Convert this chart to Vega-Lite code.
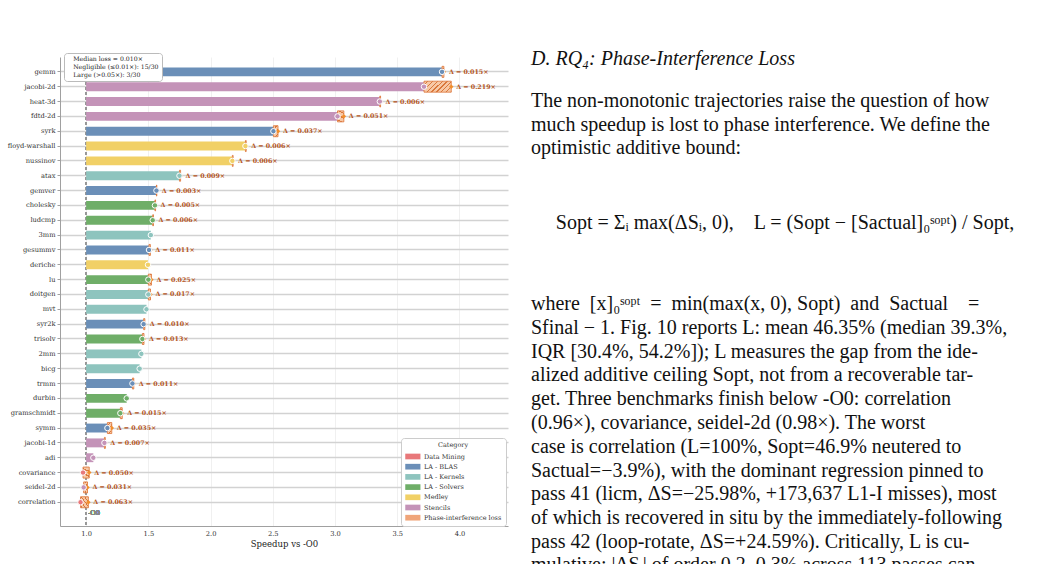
{
  "$schema": "https://vega.github.io/schema/vega-lite/v6.json",
  "padding": {"left": 5, "top": 49, "right": 0, "bottom": 0},
  "autosize": {"type": "pad"},
  "spacing": 23,
  "config": {
    "view": {"stroke": null},
    "font": "DejaVu Serif",
    "axis": {"labelFont": "DejaVu Serif", "titleFont": "DejaVu Serif", "labelColor": "#333333", "domainColor": "#a0a0a0", "tickColor": "#a0a0a0"},
    "legend": {"labelFont": "DejaVu Serif", "titleFont": "DejaVu Serif"}
  },
  "datasets": {
    "bench": [
      {"b": "gemm", "c": "LA - BLAS", "s": 3.86, "o": 3.875, "lab": "Δ = 0.015×"},
      {"b": "jacobi-2d", "c": "Stencils", "s": 3.715, "o": 3.934, "lab": "Δ = 0.219×"},
      {"b": "heat-3d", "c": "Stencils", "s": 3.36, "o": 3.366, "lab": "Δ = 0.006×"},
      {"b": "fdtd-2d", "c": "Stencils", "s": 3.02, "o": 3.071, "lab": "Δ = 0.051×"},
      {"b": "syrk", "c": "LA - BLAS", "s": 2.505, "o": 2.542, "lab": "Δ = 0.037×"},
      {"b": "floyd-warshall", "c": "Medley", "s": 2.28, "o": 2.286, "lab": "Δ = 0.006×"},
      {"b": "nussinov", "c": "Medley", "s": 2.175, "o": 2.181, "lab": "Δ = 0.006×"},
      {"b": "atax", "c": "LA - Kernels", "s": 1.75, "o": 1.759, "lab": "Δ = 0.009×"},
      {"b": "gemver", "c": "LA - BLAS", "s": 1.565, "o": 1.568, "lab": "Δ = 0.003×"},
      {"b": "cholesky", "c": "LA - Solvers", "s": 1.553, "o": 1.558, "lab": "Δ = 0.005×"},
      {"b": "ludcmp", "c": "LA - Solvers", "s": 1.535, "o": 1.541, "lab": "Δ = 0.006×"},
      {"b": "3mm", "c": "LA - Kernels", "s": 1.52, "o": null, "lab": null},
      {"b": "gesummv", "c": "LA - BLAS", "s": 1.505, "o": 1.516, "lab": "Δ = 0.011×"},
      {"b": "deriche", "c": "Medley", "s": 1.497, "o": null, "lab": null},
      {"b": "lu", "c": "LA - Solvers", "s": 1.5, "o": 1.525, "lab": "Δ = 0.025×"},
      {"b": "doitgen", "c": "LA - Kernels", "s": 1.5, "o": 1.517, "lab": "Δ = 0.017×"},
      {"b": "mvt", "c": "LA - Kernels", "s": 1.485, "o": null, "lab": null},
      {"b": "syr2k", "c": "LA - BLAS", "s": 1.462, "o": 1.472, "lab": "Δ = 0.010×"},
      {"b": "trisolv", "c": "LA - Solvers", "s": 1.452, "o": 1.465, "lab": "Δ = 0.013×"},
      {"b": "2mm", "c": "LA - Kernels", "s": 1.444, "o": null, "lab": null},
      {"b": "bicg", "c": "LA - Kernels", "s": 1.43, "o": null, "lab": null},
      {"b": "trmm", "c": "LA - BLAS", "s": 1.372, "o": 1.383, "lab": "Δ = 0.011×"},
      {"b": "durbin", "c": "LA - Solvers", "s": 1.326, "o": null, "lab": null},
      {"b": "gramschmidt", "c": "LA - Solvers", "s": 1.275, "o": 1.29, "lab": "Δ = 0.015×"},
      {"b": "symm", "c": "LA - BLAS", "s": 1.171, "o": 1.206, "lab": "Δ = 0.035×"},
      {"b": "jacobi-1d", "c": "Stencils", "s": 1.147, "o": 1.154, "lab": "Δ = 0.007×"},
      {"b": "adi", "c": "Stencils", "s": 1.058, "o": null, "lab": null},
      {"b": "covariance", "c": "Data Mining", "s": 0.975, "o": 1.025, "lab": "Δ = 0.050×"},
      {"b": "seidel-2d", "c": "Stencils", "s": 0.98, "o": 1.011, "lab": "Δ = 0.031×"},
      {"b": "correlation", "c": "Data Mining", "s": 0.955, "o": 1.018, "lab": "Δ = 0.063×"}
    ],
    "stats": [
      {"st": "Median loss = 0.010×"},
      {"st": "Negligible (≤0.01×): 15/30"},
      {"st": "Large (>0.05×): 3/30"}
    ],
    "txt": [
      {"k": "h", "r": -10.29, "t": "D. RQ₄: Phase-Interference Loss"},
      {"k": "p", "r": -8.53, "t": "\u2003The non-monotonic trajectories raise the question of how"},
      {"k": "p", "r": -7.54, "t": "much speedup is lost to phase interference. We define the"},
      {"k": "p", "r": -6.55, "t": "optimistic additive bound:"},
      {"k": "e", "r": -3.4, "t": "Sopt = Σᵢ max(ΔSᵢ, 0),\u2003L = (Sopt − [Sactual]₀ˢᵒᵖᵗ) / Sopt,"},
      {"k": "p", "r": 0, "t": "where\u2002[x]₀ˢᵒᵖᵗ\u2002=\u2002min(max(x, 0), Sopt)\u2002and\u2002Sactual\u2002\u2002="},
      {"k": "p", "r": 1, "t": "Sfinal − 1. Fig. 10 reports L: mean 46.35% (median 39.3%,"},
      {"k": "p", "r": 2, "t": "IQR [30.4%, 54.2%]); L measures the gap from the ide-"},
      {"k": "p", "r": 3, "t": "alized additive ceiling Sopt, not from a recoverable tar-"},
      {"k": "p", "r": 4, "t": "get. Three benchmarks finish below -O0: correlation"},
      {"k": "p", "r": 5, "t": "(0.96×), covariance, seidel-2d (0.98×). The worst"},
      {"k": "p", "r": 6, "t": "case is correlation (L=100%, Sopt=46.9% neutered to"},
      {"k": "p", "r": 7, "t": "Sactual=−3.9%), with the dominant regression pinned to"},
      {"k": "p", "r": 8, "t": "pass 41 (licm, ΔS=−25.98%, +173,637 L1-I misses), most"},
      {"k": "p", "r": 9, "t": "of which is recovered in situ by the immediately-following"},
      {"k": "p", "r": 10, "t": "pass 42 (loop-rotate, ΔS=+24.59%). Critically, L is cu-"},
      {"k": "p", "r": 10.95, "t": "mulative: |ΔSᵢ| of order 0.2–0.3% across 113 passes can"}
    ]
  },
  "hconcat": [
    {
      "width": 448,
      "height": 469,
      "data": {"name": "bench"},
      "layer": [
        {
          "mark": {"type": "rule", "color": "#999999", "strokeDash": [3, 2], "strokeWidth": 0.8},
          "encoding": {"x": {"datum": 1, "type": "quantitative"}}
        },
        {
          "mark": {"type": "bar", "opacity": 1},
          "encoding": {
            "x": {
              "field": "s", "type": "quantitative",
              "scale": {"domain": [0.79, 4.39], "nice": false, "zero": false},
              "axis": {
                "values": [1, 1.5, 2, 2.5, 3, 3.5, 4], "format": ".1f",
                "title": "Speedup vs -O0", "titleFontSize": 8.5, "titleFontWeight": "normal", "titleColor": "#222222", "titlePadding": 3,
                "labelFontSize": 6.7, "labelPadding": 4, "ticks": false,
                "grid": true, "gridColor": "#ececec", "gridWidth": 0.8
              }
            },
            "x2": {"datum": 1},
            "y": {
              "field": "b", "type": "nominal",
              "scale": {
                "domain": ["gemm", "jacobi-2d", "heat-3d", "fdtd-2d", "syrk", "floyd-warshall", "nussinov", "atax", "gemver", "cholesky", "ludcmp", "3mm", "gesummv", "deriche", "lu", "doitgen", "mvt", "syr2k", "trisolv", "2mm", "bicg", "trmm", "durbin", "gramschmidt", "symm", "jacobi-1d", "adi", "covariance", "seidel-2d", "correlation"],
                "paddingInner": 0.4, "paddingOuter": 1.23, "align": 0.35
              },
              "axis": {
                "title": null, "labelFontSize": 6.7, "labelPadding": 2, "tickSize": 3, "labelColor": "#333333",
                "grid": true, "gridColor": "#d2d2d2", "gridWidth": 1.5,
                "minExtent": 55, "maxExtent": 55
              }
            },
            "color": {
              "field": "c", "type": "nominal",
              "scale": {
                "domain": ["Data Mining", "LA - BLAS", "LA - Kernels", "LA - Solvers", "Medley", "Stencils", "Phase-interference loss"],
                "range": ["#e8787a", "#6b8fb8", "#8ec4be", "#6fae68", "#f1d066", "#c493b8", "#f0a57a"]
              },
              "legend": {
                "title": "Category", "orient": "none", "legendX": 341, "legendY": 381,
                "fillColor": "white", "strokeColor": "#cccccc", "cornerRadius": 3, "padding": 4,
                "titleFontSize": 6.5, "titleFontWeight": "normal", "titleAnchor": "middle", "titleColor": "#333333", "titlePadding": 3,
                "labelFontSize": 6.5, "labelColor": "#333333",
                "symbolType": "M-1,-0.6H2.2V0.6H-1Z", "symbolSize": 90, "symbolStrokeWidth": 0, "symbolOpacity": 1,
                "labelOffset": 9, "rowPadding": 1.2
              }
            }
          }
        },
        {
          "transform": [{"filter": "datum.o != null"}],
          "mark": {
            "type": "bar", "height": 11, "stroke": "#dd7436", "strokeWidth": 0.8,
            "fill": {
              "gradient": "linear", "x1": 0, "y1": 0, "x2": 1.208, "y2": 0.492,
              "stops": [
                {"offset": 0, "color": "#f7c8a5"}, {"offset": 0.09, "color": "#f7c8a5"}, {"offset": 0.09, "color": "#d9773a"}, {"offset": 0.125, "color": "#d9773a"},
                {"offset": 0.125, "color": "#f7c8a5"}, {"offset": 0.215, "color": "#f7c8a5"}, {"offset": 0.215, "color": "#d9773a"}, {"offset": 0.25, "color": "#d9773a"},
                {"offset": 0.25, "color": "#f7c8a5"}, {"offset": 0.34, "color": "#f7c8a5"}, {"offset": 0.34, "color": "#d9773a"}, {"offset": 0.375, "color": "#d9773a"},
                {"offset": 0.375, "color": "#f7c8a5"}, {"offset": 0.465, "color": "#f7c8a5"}, {"offset": 0.465, "color": "#d9773a"}, {"offset": 0.5, "color": "#d9773a"},
                {"offset": 0.5, "color": "#f7c8a5"}, {"offset": 0.59, "color": "#f7c8a5"}, {"offset": 0.59, "color": "#d9773a"}, {"offset": 0.625, "color": "#d9773a"},
                {"offset": 0.625, "color": "#f7c8a5"}, {"offset": 0.715, "color": "#f7c8a5"}, {"offset": 0.715, "color": "#d9773a"}, {"offset": 0.75, "color": "#d9773a"},
                {"offset": 0.75, "color": "#f7c8a5"}, {"offset": 0.84, "color": "#f7c8a5"}, {"offset": 0.84, "color": "#d9773a"}, {"offset": 0.875, "color": "#d9773a"},
                {"offset": 0.875, "color": "#f7c8a5"}, {"offset": 0.965, "color": "#f7c8a5"}, {"offset": 0.965, "color": "#d9773a"}, {"offset": 1, "color": "#d9773a"}
              ]
            }
          },
          "encoding": {
            "x": {"field": "s", "type": "quantitative"},
            "x2": {"field": "o"},
            "y": {"field": "b", "type": "nominal"}
          }
        },
        {
          "transform": [{"filter": "datum.o != null"}],
          "mark": {"type": "point", "shape": "diamond", "filled": true, "fill": "#f28e2b", "size": 20, "opacity": 1, "strokeWidth": 0},
          "encoding": {
            "x": {"field": "o", "type": "quantitative"},
            "y": {"field": "b", "type": "nominal"}
          }
        },
        {
          "mark": {"type": "point", "shape": "circle", "filled": true, "size": 30, "opacity": 1, "stroke": "white", "strokeWidth": 1},
          "encoding": {
            "x": {"field": "s", "type": "quantitative"},
            "y": {"field": "b", "type": "nominal"},
            "color": {"field": "c", "type": "nominal"}
          }
        },
        {
          "transform": [{"filter": "datum.o != null"}],
          "mark": {"type": "text", "align": "left", "baseline": "middle", "dx": 5, "fontSize": 6.3, "fontWeight": "bold", "color": "#b5541c", "font": "DejaVu Serif"},
          "encoding": {
            "x": {"field": "o", "type": "quantitative"},
            "y": {"field": "b", "type": "nominal"},
            "text": {"field": "lab"}
          }
        },
        {
          "mark": {"type": "text", "align": "left", "baseline": "middle", "dx": 2, "dy": 11, "fontSize": 6.5, "color": "#888888", "text": "-O0"},
          "encoding": {
            "x": {"datum": 1, "type": "quantitative"},
            "y": {"datum": "correlation", "type": "nominal"}
          }
        },
        {
          "data": {"name": "stats"},
          "mark": {"type": "point", "opacity": 0},
          "encoding": {
            "shape": {
              "field": "st", "type": "nominal",
              "scale": {"domain": ["Median loss = 0.010×", "Negligible (≤0.01×): 15/30", "Large (>0.05×): 3/30"]},
              "legend": {
                "title": null, "orient": "none", "legendX": 4, "legendY": -4,
                "fillColor": "white", "strokeColor": "#bbbbbb", "cornerRadius": 3, "padding": 3,
                "labelFontSize": 6.2, "labelColor": "#222222", "labelLimit": 300,
                "symbolSize": 0.01, "symbolStrokeWidth": 0, "labelOffset": 0, "rowPadding": 0.8
              }
            }
          }
        }
      ]
    },
    {
      "width": 500,
      "height": 469,
      "data": {"name": "txt"},
      "layer": [
        {
          "transform": [{"filter": "datum.k == 'h'"}],
          "mark": {"type": "text", "align": "left", "baseline": "middle", "font": "Liberation Serif", "fontSize": 20, "fontStyle": "italic", "color": "#111111"},
          "encoding": {
            "x": {"datum": 0, "type": "quantitative", "scale": {"domain": [0, 1], "nice": false, "zero": false}, "axis": null},
            "y": {"field": "r", "type": "quantitative", "scale": {"domain": [-10.378, 9.328], "reverse": true, "nice": false, "zero": false}, "axis": null},
            "text": {"field": "t"}
          }
        },
        {
          "transform": [{"filter": "datum.k == 'p'"}],
          "mark": {"type": "text", "align": "left", "baseline": "middle", "font": "Liberation Serif", "fontSize": 20, "color": "#111111"},
          "encoding": {
            "x": {"datum": 0, "type": "quantitative"},
            "y": {"field": "r", "type": "quantitative"},
            "text": {"field": "t"}
          }
        },
        {
          "transform": [{"filter": "datum.k == 'e'"}],
          "mark": {"type": "text", "align": "center", "baseline": "middle", "font": "Liberation Serif", "fontSize": 20, "color": "#111111"},
          "encoding": {
            "x": {"datum": 0.508, "type": "quantitative"},
            "y": {"field": "r", "type": "quantitative"},
            "text": {"field": "t"}
          }
        }
      ]
    }
  ]
}
